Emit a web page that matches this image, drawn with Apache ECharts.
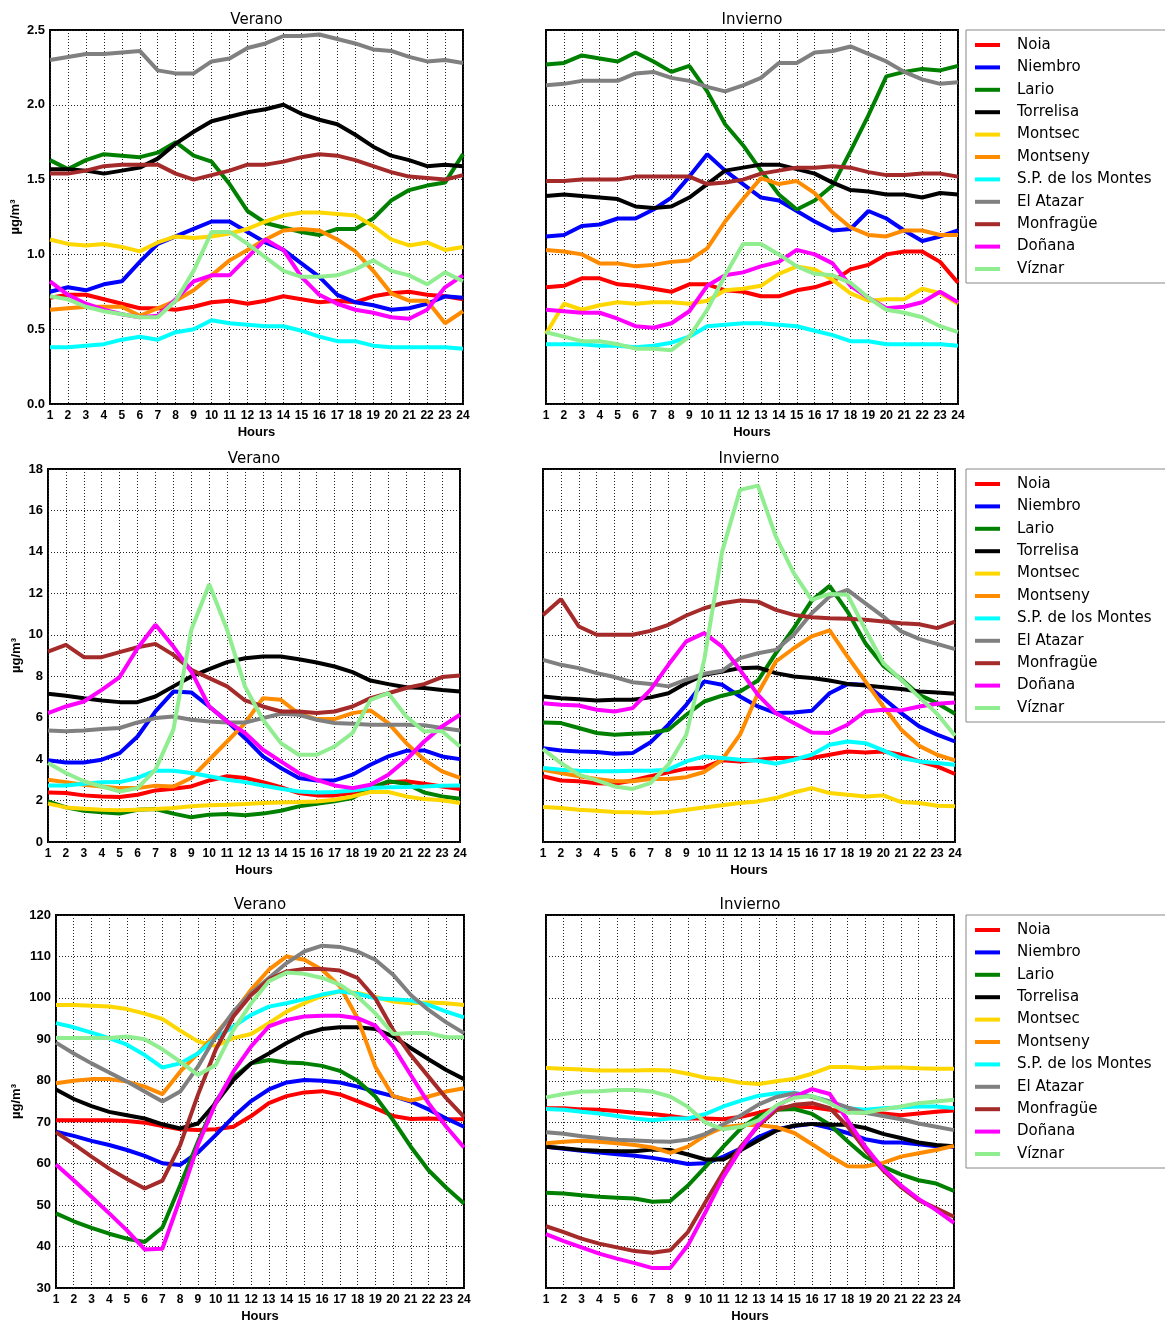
<!DOCTYPE html>
<html><head><meta charset="utf-8">
<script src="https://cdn.jsdelivr.net/npm/echarts@6/dist/echarts.min.js"></script>
<style>html,body{margin:0;padding:0;background:#fff}#c{width:1165px;height:1322px}</style>
</head><body><div id="c"></div>
<script>
// ---------- DATA ----------
const hours = [1,2,3,4,5,6,7,8,9,10,11,12,13,14,15,16,17,18,19,20,21,22,23,24];
const stations = ['Noia','Niembro','Lario','Torrelisa','Montsec','Montseny','S.P. de los Montes','El Atazar','Monfragüe','Doñana','Víznar'];
const upperYTicks = [0.0, 0.5, 1.0, 1.5, 2.0, 2.5];
const middleYTicks = [0, 2, 4, 6, 8, 10, 12, 14, 16, 18];
const lowerYTicks = [30, 40, 50, 60, 70, 80, 90, 100, 110, 120];

// rows follow the order of `stations`
const upperVerano = [
 [0.71,0.73,0.73,0.70,0.67,0.64,0.64,0.63,0.65,0.68,0.69,0.67,0.69,0.72,0.70,0.68,0.69,0.68,0.72,0.74,0.75,0.73,0.72,0.70],
 [0.75,0.78,0.76,0.80,0.82,0.95,1.07,1.12,1.17,1.22,1.22,1.15,1.08,1.03,0.94,0.85,0.73,0.68,0.66,0.63,0.64,0.67,0.72,0.71],
 [1.63,1.57,1.63,1.67,1.66,1.65,1.68,1.75,1.66,1.62,1.47,1.29,1.21,1.18,1.15,1.13,1.17,1.17,1.24,1.36,1.43,1.46,1.48,1.67],
 [1.57,1.57,1.56,1.54,1.56,1.58,1.64,1.74,1.82,1.89,1.92,1.95,1.97,2.00,1.94,1.90,1.87,1.80,1.72,1.66,1.63,1.59,1.60,1.59],
 [1.10,1.07,1.06,1.07,1.05,1.02,1.08,1.12,1.11,1.12,1.14,1.17,1.22,1.26,1.28,1.28,1.27,1.26,1.19,1.10,1.06,1.08,1.03,1.05],
 [0.63,0.64,0.65,0.65,0.65,0.59,0.64,0.69,0.76,0.86,0.96,1.03,1.10,1.16,1.17,1.16,1.10,1.02,0.89,0.74,0.69,0.69,0.54,0.62],
 [0.38,0.38,0.39,0.40,0.43,0.45,0.43,0.48,0.50,0.56,0.54,0.53,0.52,0.52,0.49,0.45,0.42,0.42,0.39,0.38,0.38,0.38,0.38,0.37],
 [2.30,2.32,2.34,2.34,2.35,2.36,2.23,2.21,2.21,2.29,2.31,2.38,2.41,2.46,2.46,2.47,2.44,2.41,2.37,2.36,2.32,2.29,2.30,2.28],
 [1.54,1.54,1.56,1.59,1.60,1.60,1.60,1.54,1.50,1.53,1.56,1.60,1.60,1.62,1.65,1.67,1.66,1.63,1.59,1.55,1.52,1.51,1.50,1.53],
 [0.82,0.73,0.67,0.63,0.60,0.58,0.59,0.70,0.82,0.86,0.86,0.98,1.10,1.03,0.85,0.73,0.67,0.63,0.61,0.58,0.57,0.63,0.78,0.86],
 [0.72,0.70,0.65,0.62,0.60,0.58,0.58,0.69,0.89,1.15,1.15,1.07,0.98,0.89,0.85,0.85,0.86,0.90,0.96,0.89,0.86,0.80,0.88,0.82]
];
const upperInvierno = [
 [0.78,0.79,0.84,0.84,0.80,0.79,0.77,0.75,0.80,0.80,0.76,0.75,0.72,0.72,0.76,0.78,0.82,0.90,0.93,1.00,1.02,1.02,0.95,0.81],
 [1.12,1.13,1.19,1.20,1.24,1.24,1.30,1.38,1.52,1.67,1.56,1.47,1.38,1.36,1.29,1.22,1.16,1.17,1.29,1.24,1.16,1.09,1.12,1.16],
 [2.27,2.28,2.33,2.31,2.29,2.35,2.29,2.22,2.26,2.09,1.87,1.73,1.56,1.40,1.30,1.36,1.46,1.69,1.93,2.19,2.22,2.24,2.23,2.26],
 [1.39,1.40,1.39,1.38,1.37,1.32,1.31,1.32,1.38,1.47,1.56,1.58,1.60,1.60,1.57,1.54,1.48,1.43,1.42,1.40,1.40,1.38,1.41,1.40],
 [0.47,0.67,0.63,0.66,0.68,0.67,0.68,0.68,0.67,0.69,0.76,0.77,0.79,0.87,0.92,0.90,0.83,0.74,0.69,0.70,0.70,0.77,0.74,0.67],
 [1.03,1.02,1.00,0.94,0.94,0.92,0.93,0.95,0.96,1.04,1.22,1.37,1.51,1.47,1.49,1.41,1.28,1.18,1.13,1.12,1.16,1.16,1.13,1.13],
 [0.40,0.40,0.40,0.39,0.39,0.38,0.39,0.41,0.45,0.52,0.53,0.54,0.54,0.53,0.52,0.49,0.46,0.42,0.42,0.40,0.40,0.40,0.40,0.39],
 [2.13,2.14,2.16,2.16,2.16,2.21,2.22,2.18,2.16,2.12,2.09,2.13,2.18,2.28,2.28,2.35,2.36,2.39,2.34,2.29,2.22,2.17,2.14,2.15],
 [1.49,1.49,1.50,1.50,1.50,1.52,1.52,1.52,1.52,1.47,1.48,1.50,1.54,1.56,1.58,1.58,1.59,1.58,1.55,1.53,1.53,1.54,1.54,1.52],
 [0.63,0.62,0.61,0.61,0.57,0.52,0.51,0.54,0.62,0.79,0.86,0.88,0.92,0.95,1.03,1.00,0.94,0.79,0.71,0.64,0.65,0.68,0.75,0.68],
 [0.48,0.45,0.42,0.42,0.40,0.37,0.37,0.36,0.45,0.63,0.86,1.07,1.07,1.00,0.92,0.87,0.86,0.81,0.71,0.63,0.61,0.58,0.52,0.48]
];
const middleVerano = [
 [2.39,2.36,2.25,2.20,2.17,2.28,2.49,2.57,2.68,2.97,3.17,3.09,2.89,2.65,2.36,2.25,2.25,2.36,2.60,2.88,2.93,2.81,2.68,2.56],
 [3.94,3.84,3.84,3.97,4.29,5.09,6.30,7.26,7.22,6.54,5.82,5.01,4.13,3.57,3.09,2.97,2.97,3.25,3.73,4.13,4.40,4.42,4.13,4.00],
 [1.96,1.67,1.51,1.43,1.37,1.56,1.59,1.37,1.19,1.32,1.35,1.29,1.37,1.51,1.72,1.85,1.96,2.12,2.60,2.93,2.81,2.39,2.20,2.09],
 [7.15,7.06,6.94,6.83,6.75,6.75,7.02,7.51,7.99,8.34,8.68,8.87,8.95,8.95,8.82,8.66,8.47,8.20,7.79,7.62,7.47,7.43,7.34,7.26],
 [1.85,1.67,1.61,1.56,1.53,1.56,1.59,1.64,1.72,1.77,1.80,1.83,1.88,1.91,1.93,1.96,2.04,2.20,2.41,2.41,2.20,2.07,2.01,1.88],
 [3.00,2.89,2.76,2.68,2.60,2.60,2.72,2.68,3.09,3.97,4.85,5.74,6.94,6.86,6.19,5.93,5.93,6.22,6.35,5.74,4.77,3.97,3.41,3.09],
 [2.73,2.73,2.81,2.88,2.89,3.09,3.44,3.44,3.33,3.17,3.00,2.89,2.73,2.57,2.44,2.39,2.41,2.49,2.60,2.64,2.65,2.68,2.72,2.73],
 [5.38,5.34,5.38,5.45,5.50,5.77,5.98,6.06,5.90,5.82,5.77,5.77,5.98,6.19,6.14,5.90,5.74,5.71,5.66,5.66,5.66,5.63,5.50,5.38],
 [9.19,9.51,8.92,8.92,9.16,9.40,9.56,9.03,8.31,7.91,7.51,6.83,6.54,6.30,6.30,6.22,6.30,6.54,6.94,7.18,7.43,7.62,7.96,8.04],
 [6.22,6.54,6.78,7.34,7.96,9.35,10.48,9.43,8.23,6.54,5.82,5.26,4.45,3.89,3.33,3.00,2.73,2.60,2.76,3.25,3.97,4.85,5.58,6.14],
 [3.81,3.33,2.93,2.68,2.44,2.60,3.49,5.42,10.24,12.44,10.24,7.50,5.90,4.77,4.21,4.21,4.61,5.26,6.86,7.18,6.06,5.34,5.34,4.61]
];
const middleInvierno = [
 [3.17,2.97,2.93,2.84,2.81,2.97,3.17,3.36,3.54,3.60,3.94,3.89,3.97,4.05,4.05,4.05,4.21,4.37,4.32,4.37,4.21,3.89,3.65,3.28],
 [4.53,4.42,4.37,4.34,4.26,4.29,4.81,5.66,6.62,7.75,7.59,7.02,6.54,6.22,6.25,6.33,7.18,7.62,7.59,6.94,6.22,5.58,5.18,4.85],
 [5.77,5.74,5.50,5.26,5.18,5.22,5.26,5.42,6.14,6.78,7.06,7.26,7.79,9.11,10.32,11.65,12.36,11.12,9.59,8.50,7.86,7.10,6.70,6.19],
 [7.02,6.94,6.89,6.83,6.86,6.86,6.98,7.18,7.67,8.07,8.23,8.39,8.42,8.15,7.99,7.91,7.79,7.63,7.55,7.47,7.38,7.26,7.22,7.15],
 [1.69,1.64,1.56,1.51,1.45,1.43,1.40,1.45,1.56,1.67,1.77,1.88,1.96,2.12,2.39,2.60,2.36,2.28,2.20,2.25,1.93,1.88,1.75,1.72],
 [3.49,3.33,3.17,3.04,2.93,2.93,3.04,3.04,3.13,3.38,3.97,5.18,7.18,8.71,9.35,9.92,10.21,8.95,7.75,6.54,5.42,4.64,4.21,3.94],
 [3.57,3.49,3.44,3.41,3.41,3.44,3.44,3.49,3.89,4.13,4.05,3.97,3.92,3.78,3.97,4.21,4.69,4.85,4.77,4.42,4.05,3.89,3.81,3.73],
 [8.79,8.55,8.39,8.15,7.96,7.71,7.63,7.51,7.83,8.12,8.26,8.87,9.11,9.27,10.00,11.04,11.85,12.17,11.52,10.88,10.16,9.80,9.56,9.31],
 [10.96,11.72,10.40,10.00,10.00,10.00,10.19,10.48,10.93,11.28,11.52,11.65,11.60,11.20,10.96,10.85,10.80,10.77,10.72,10.64,10.56,10.51,10.32,10.64],
 [6.70,6.62,6.59,6.38,6.30,6.46,7.34,8.55,9.68,10.08,9.43,8.31,7.10,6.22,5.74,5.29,5.26,5.66,6.30,6.38,6.35,6.54,6.67,6.73],
 [4.48,3.81,3.25,2.97,2.68,2.56,2.84,3.73,5.18,8.79,14.01,16.99,17.20,14.74,12.97,11.68,11.97,11.93,10.24,8.63,7.83,6.99,6.19,5.13]
];
const lowerVerano = [
 [70.5,70.5,70.5,70.5,70.3,69.9,69.1,68.3,68.1,68.3,68.9,71.5,74.6,76.3,77.2,77.5,76.7,75.1,73.4,71.5,70.8,70.9,70.7,70.7],
 [67.7,66.7,65.5,64.5,63.3,61.9,60.1,59.7,62.7,66.9,71.3,75.1,77.9,79.6,80.2,80.0,79.6,78.6,77.4,76.3,75.0,73.1,70.9,68.9],
 [48.0,46.1,44.5,43.1,41.9,41.1,44.6,54.8,65.3,75.0,80.8,84.2,85.0,84.4,84.2,83.6,82.4,80.0,76.2,70.5,64.1,58.4,54.2,50.4],
 [77.9,75.6,73.9,72.5,71.7,70.9,69.5,68.5,69.7,74.6,80.2,84.2,86.6,89.1,91.3,92.5,92.9,92.9,92.5,90.7,87.9,85.2,82.6,80.4],
 [98.3,98.3,98.1,97.9,97.3,96.2,94.9,92.1,89.5,88.4,90.3,91.3,93.9,96.7,98.7,100.5,101.6,101.2,100.2,99.1,98.7,98.9,98.7,98.3],
 [79.4,80.0,80.4,80.4,79.8,78.6,76.8,82.2,86.6,91.3,96.3,102.0,106.8,110.0,109.2,106.8,102.8,95.1,83.4,76.3,75.2,76.2,77.4,78.2],
 [93.9,92.9,91.6,90.3,88.7,86.2,83.2,84.2,86.6,90.3,93.1,95.9,97.9,98.7,99.7,100.8,101.6,101.0,99.9,99.7,99.4,98.3,96.7,95.3],
 [89.2,86.6,84.2,82.0,79.8,77.4,75.0,77.4,83.4,90.7,96.7,101.2,104.8,108.4,111.2,112.6,112.3,111.2,109.2,105.6,100.7,97.1,94.1,91.5],
 [67.6,64.7,61.7,58.8,56.3,54.0,55.9,64.5,76.6,87.5,95.5,100.7,104.4,106.4,107.0,107.0,106.6,104.8,99.9,92.3,86.2,81.0,75.8,71.3],
 [59.8,56.0,52.0,48.0,43.9,39.3,39.5,51.6,64.5,74.6,82.2,88.3,93.1,94.7,95.5,95.7,95.7,95.1,93.3,88.3,81.4,74.6,68.9,63.9],
 [90.3,90.3,90.3,90.3,90.7,90.0,87.6,84.6,81.4,83.8,92.3,98.7,104.0,106.1,105.8,104.8,103.2,100.3,96.3,91.3,91.5,91.5,90.5,90.5]
];
const lowerInvierno = [
 [73.4,73.4,73.1,73.0,72.7,72.3,72.0,71.5,70.9,70.9,70.7,71.3,72.3,73.4,73.8,73.6,73.0,72.5,72.3,72.1,71.7,72.1,72.5,72.8],
 [64.1,63.6,63.1,62.7,62.3,61.9,61.4,60.7,59.9,60.1,61.7,63.7,66.5,68.3,69.1,69.6,68.6,67.4,65.9,65.1,65.1,64.7,64.2,64.1],
 [53.0,52.8,52.4,52.0,51.8,51.6,50.8,51.0,54.7,59.3,64.1,68.6,71.5,73.0,73.2,72.0,69.4,65.4,61.7,59.3,57.4,56.0,55.2,53.4],
 [64.1,63.7,63.3,63.1,63.0,63.0,63.4,63.3,62.2,61.0,61.0,63.3,65.7,68.0,69.2,69.6,69.4,69.4,68.6,67.2,66.2,65.1,64.5,64.2],
 [83.1,82.9,82.7,82.5,82.5,82.5,82.6,82.5,81.7,80.7,80.3,79.5,79.2,79.9,80.5,81.7,83.3,83.3,83.0,83.2,83.2,83.0,82.9,82.9],
 [64.9,65.3,65.5,65.3,64.9,64.5,63.9,62.6,64.1,66.9,68.8,69.3,69.3,68.8,67.4,64.7,61.9,59.4,59.3,60.2,61.7,62.5,63.3,64.3],
 [73.2,73.0,72.5,72.1,71.5,70.9,70.5,70.9,70.9,72.0,73.8,75.2,76.4,77.0,77.1,76.2,75.0,73.4,73.0,73.4,73.6,73.8,73.8,73.4],
 [67.6,67.2,66.6,66.2,65.8,65.6,65.4,65.3,65.8,67.2,69.5,71.7,74.3,76.1,77.0,76.1,75.0,73.6,72.3,71.5,70.7,69.7,68.9,68.1],
 [44.9,43.5,41.9,40.7,39.8,38.9,38.5,39.1,43.5,50.8,58.0,64.2,69.3,73.0,74.2,74.6,73.4,69.0,63.4,58.4,54.4,51.2,49.2,47.2],
 [43.0,41.3,39.8,38.3,37.1,36.0,34.8,34.8,40.3,48.4,56.8,63.7,69.7,73.9,76.2,78.0,76.8,70.5,64.1,58.8,54.8,51.5,48.8,45.7],
 [76.0,76.8,77.4,77.5,77.8,77.8,77.4,76.2,73.7,69.9,68.3,68.9,70.5,74.1,75.9,76.3,74.6,72.3,72.3,73.1,73.8,74.6,75.0,75.4]
];

// ---------- STYLE / LAYOUT ----------
const colors = ['#ff0000','#0000ff','#008000','#000000','#ffd700','#ff8c00','#00ffff','#808080','#a52a2a','#ff00ff','#90ee90'];
const panels = [
  {data: upperVerano,    ticks: upperYTicks,  title:'Verano',   grid:{left:50, top:30, width:413, height:374}, labels:true,  dec:1, nameGap:28},
  {data: upperInvierno,  ticks: upperYTicks,  title:'Invierno', grid:{left:546,top:30, width:412, height:374}, labels:false, dec:1},
  {data: middleVerano,   ticks: middleYTicks, title:'Verano',   grid:{left:48, top:469,width:412, height:373}, labels:true,  dec:0, nameGap:25},
  {data: middleInvierno, ticks: middleYTicks, title:'Invierno', grid:{left:543,top:469,width:412, height:373}, labels:false, dec:0},
  {data: lowerVerano,    ticks: lowerYTicks,  title:'Verano',   grid:{left:56, top:915,width:408, height:373}, labels:true,  dec:0, nameGap:33},
  {data: lowerInvierno,  ticks: lowerYTicks,  title:'Invierno', grid:{left:546,top:915,width:408, height:373}, labels:false, dec:0}
];
const legendTops = [30, 469, 915];

const tickFont = {fontFamily:'Liberation Sans', fontWeight:'bold', fontSize:12, color:'#000'};
const gridLine = {show:true, lineStyle:{color:'#222', type:[1,2], width:1}};

const option = {
  animation:false,
  backgroundColor:'#fff',
  grid: panels.map(p => Object.assign({show:true, borderColor:'#000', borderWidth:2, backgroundColor:'transparent', containLabel:false, outerBoundsMode:'none'}, p.grid)),
  xAxis: panels.map((p,i) => ({
    gridIndex:i, type:'value', min:hours[0], max:hours[hours.length-1], interval:1,
    axisLine:{show:false}, axisTick:{show:false},
    axisLabel:Object.assign({margin:6, hideOverlap:false}, tickFont),
    splitLine:gridLine,
    name:'Hours', nameLocation:'middle', nameGap:22,
    nameTextStyle:{fontFamily:'Liberation Sans', fontWeight:'bold', fontSize:13, color:'#000'}
  })),
  yAxis: panels.map((p,i) => ({
    gridIndex:i, type:'value', min:p.ticks[0], max:p.ticks[p.ticks.length-1], interval:p.ticks[1]-p.ticks[0],
    axisLine:{show:false}, axisTick:{show:false},
    axisLabel:Object.assign({show:p.labels, margin:5, formatter:v => v.toFixed(p.dec)}, tickFont, {fontSize:13}),
    splitLine:gridLine,
    name:p.labels ? 'µg/m³' : '', nameLocation:'middle', nameRotate:90, nameGap:p.nameGap || 30,
    nameTextStyle:{fontFamily:'Liberation Sans', fontWeight:'bold', fontSize:13, color:'#000'}
  })),
  legend: legendTops.map(t => ({
    data: stations, orient:'vertical', left:966, top:t, icon:'rect',
    itemWidth:25, itemHeight:4, itemGap:4.4, padding:[6,40,5,9],
    borderColor:'#888', borderWidth:1, backgroundColor:'#fff', selectedMode:false,
    textStyle:{fontFamily:'DejaVu Sans', fontSize:15, color:'#000', lineHeight:18, padding:[0,0,0,12]}
  })),
  graphic: panels.map(p => ({
    type:'text',
    x: p.grid.left + p.grid.width/2,
    y: p.grid.top - 10,
    style:{text:p.title, font:'15px "DejaVu Sans"', fill:'#000', align:'center', verticalAlign:'middle'}
  })),
  series: []
};
panels.forEach((p,pi) => {
  p.data.forEach((vals,si) => {
    option.series.push({
      type:'line', name:stations[si], xAxisIndex:pi, yAxisIndex:pi,
      data: hours.map((h,k) => [h, vals[k]]),
      showSymbol:false, symbol:'none', color:colors[si],
      lineStyle:{width:4, color:colors[si]}, itemStyle:{color:colors[si]}
    });
  });
});
const chart = echarts.init(document.getElementById('c'), null, {renderer:'canvas'});
chart.setOption(option);
</script></body></html>
